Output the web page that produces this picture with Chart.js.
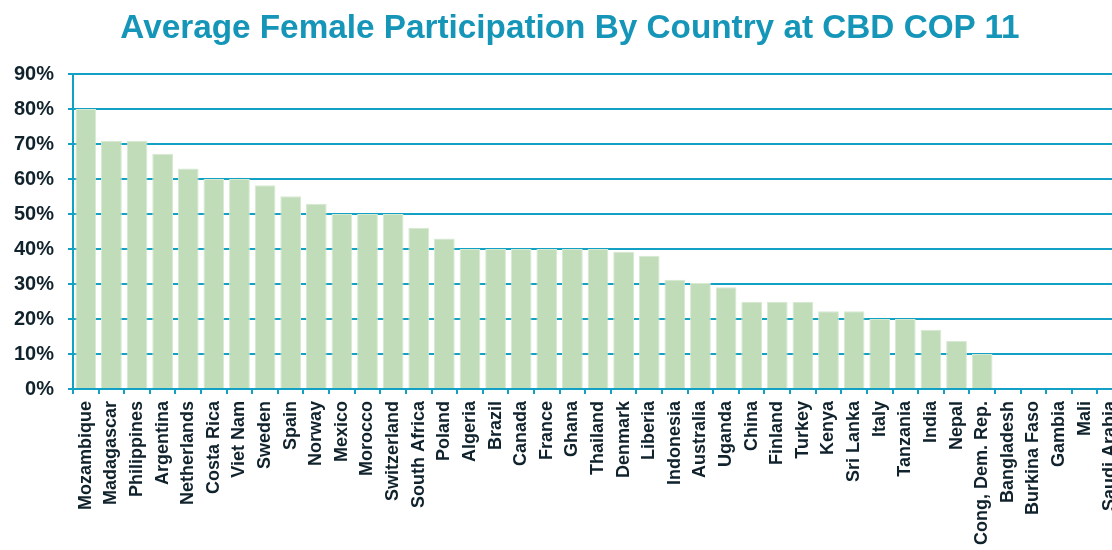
<!DOCTYPE html>
<html>
<head>
<meta charset="utf-8">
<title>Average Female Participation By Country at CBD COP 11</title>
<script src="https://cdn.jsdelivr.net/npm/chart.js@4"></script>
<style>
  html, body { margin: 0; padding: 0; background: #fff; overflow: hidden; }
  #wrap { position: relative; width: 1140px; height: 580px; }
  #title {
    position: absolute; left: 0; top: 8px; width: 1140px; margin: 0;
    text-align: center; line-height: 40px;
    font: bold 33.3px "Liberation Sans", Arial, sans-serif;
    color: #1596b8;
  }
</style>
</head>
<body>
<div id="wrap">
  <h1 id="title">Average Female Participation By Country at CBD COP 11</h1>
  <canvas id="chart" width="1140" height="580"></canvas>
</div>
<script>
// Countries, sorted by share of women in delegation
const countries = [
    'Mozambique', 'Madagascar', 'Philippines', 'Argentina', 'Netherlands', 'Costa Rica',
    'Viet Nam', 'Sweden', 'Spain', 'Norway', 'Mexico', 'Morocco', 'Switzerland',
    'South Africa', 'Poland', 'Algeria', 'Brazil', 'Canada', 'France', 'Ghana',
    'Thailand', 'Denmark', 'Liberia', 'Indonesia', 'Australia', 'Uganda', 'China',
    'Finland', 'Turkey', 'Kenya', 'Sri Lanka', 'Italy', 'Tanzania', 'India', 'Nepal',
    'Cong, Dem. Rep.', 'Bangladesh', 'Burkina Faso', 'Gambia', 'Mali', 'Saudi Arabia'
];

// Average female participation (%)
const femaleShare = [
    80, 70.9, 70.9, 67.2, 63, 60,
    60, 58.2, 55.1, 52.9, 50, 50, 50,
    46.1, 43, 40, 40, 40, 40, 40,
    40, 39.2, 38.1, 31.2, 30.3, 29.1, 24.9,
    24.9, 24.9, 22.2, 22.2, 20, 20, 16.9, 13.7,
    10, 0, 0, 0, 0, 0
];

// y axis ticks
const yTicks = [0, 10, 20, 30, 40, 50, 60, 70, 80, 90];

const teal = '#12a0c4';
const labelColor = '#10222c';
const fontFamily = '"Liberation Sans", Arial, sans-serif';

const ctx = document.getElementById('chart').getContext('2d');

new Chart(ctx, {
    type: 'bar',
    data: {
        labels: countries,
        datasets: [{
            data: femaleShare,
            backgroundColor: '#c0dcb8',
            borderColor: '#d6e9d1',
            borderWidth: 1,
            categoryPercentage: 1,
            barPercentage: 0.81
        }]
    },
    options: {
        responsive: false,
        animation: false,
        devicePixelRatio: 1,
        // top padding leaves room for the html title
        layout: { padding: { left: 0, right: 17, top: 74, bottom: 0 } },
        plugins: {
            legend: { display: false },
            tooltip: { enabled: false },
            title: { display: false }
        },
        scales: {
            x: {
                offset: true,
                grid: {
                    offset: true,
                    drawOnChartArea: false,
                    drawTicks: true,
                    tickLength: 5,
                    color: teal,
                    lineWidth: 2
                },
                border: { color: teal, width: 2 },
                ticks: {
                    autoSkip: false,
                    minRotation: 90,
                    maxRotation: 90,
                    padding: 7,
                    color: labelColor,
                    font: { family: fontFamily, size: 18, weight: 'bold' }
                },
                afterFit: function(scale) {
                    scale.height = 191;
                }
            },
            y: {
                min: 0,
                max: 90,
                afterBuildTicks: function(scale) {
                    scale.ticks = yTicks.map(v => ({ value: v }));
                },
                grid: {
                    color: teal,
                    lineWidth: 2,
                    drawTicks: true,
                    tickLength: 5
                },
                border: { color: teal, width: 2 },
                ticks: {
                    padding: 14,
                    color: labelColor,
                    font: { family: fontFamily, size: 20, weight: 'bold' },
                    callback: function(value) {
                        return value + '%';
                    }
                },
                afterFit: function(scale) {
                    scale.width = 73;
                }
            }
        }
    }
});
</script>
</body>
</html>
